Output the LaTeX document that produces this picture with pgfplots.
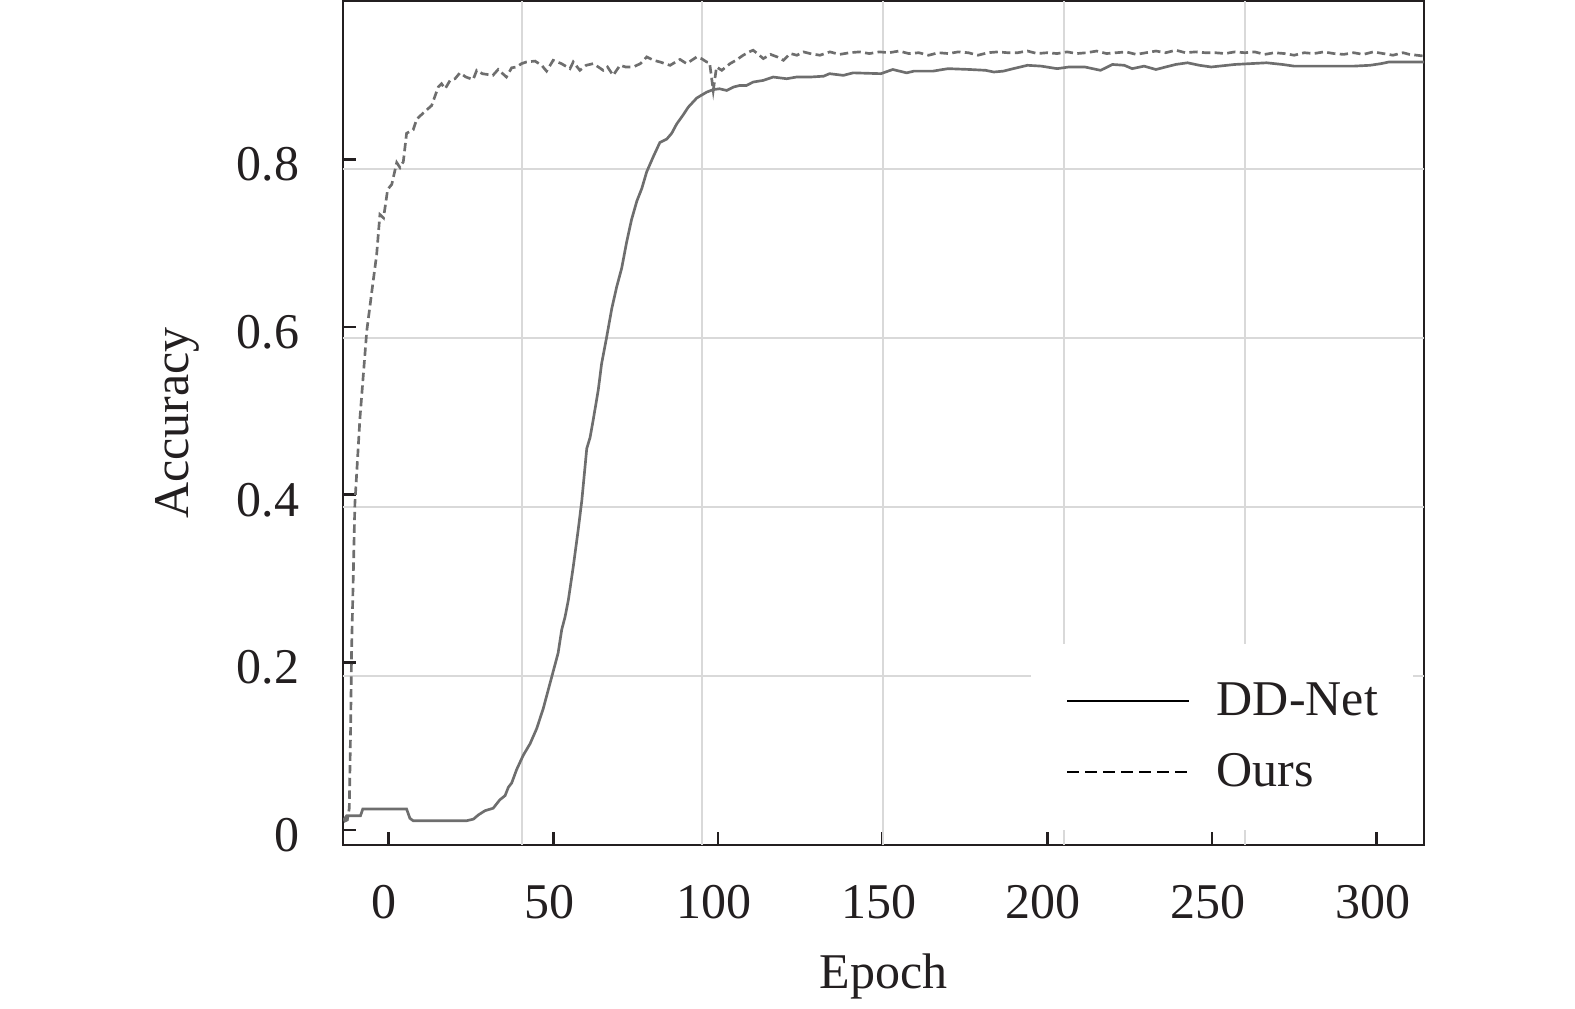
\documentclass[border=0pt]{standalone}
\usepackage{pgfplots}
\pgfplotsset{compat=1.18}
\usepackage{fontspec}
\setmainfont{Liberation Serif}
\definecolor{axisblack}{HTML}{231F20}
\definecolor{curvegray}{HTML}{6E6E6E}
\definecolor{gridgray}{HTML}{D9D9D9}
\newcommand{\lblfont}{\fontsize{15}{18}\selectfont}
\begin{document}
\begin{tikzpicture}
\begin{axis}[
  scale only axis,
  width=324.3pt, height=253.2pt,
  xmin=-13.81, xmax=314.4,
  ymin=-0.0179, ymax=0.9887,
  xtick={0,50,100,150,200,250,300},
  ytick={0,0.2,0.4,0.6,0.8},
  yticklabels={0,0.2,0.4,0.6,0.8},
  xticklabels={0,50,100,150,200,250,300},
  tick align=inside,
  xtick pos=bottom, ytick pos=left,
  major tick length=3.9pt,
  every tick/.style={axisblack, line width=0.8pt},
  axis line style={axisblack, line width=0.8pt},
  extra x ticks={40.4,95.3,150.2,205.1,260.0},
  extra x tick labels={},
  extra y ticks={0.1835,0.385,0.5865,0.788},
  extra y tick labels={},
  extra tick style={grid=major, major tick length=0pt, major grid style={gridgray, line width=0.6pt}},
  /pgf/number format/assume math mode=true,
  tick label style={font=\lblfont, text=axisblack},
  xticklabel style={inner sep=0pt, anchor=north, yshift=-12pt, xshift=-1.2pt},
  yticklabel style={inner sep=0pt, anchor=east, xshift=-12.9pt, yshift=-1.6pt},
  xlabel={Epoch}, ylabel={Accuracy},
  every axis x label/.style={at={(axis description cs:0.5,-0.128)}, anchor=north, inner sep=0pt, font=\lblfont, text=axisblack},
  every axis y label/.style={at={(axis description cs:-0.1739,0.5)}, rotate=90, anchor=north, inner sep=0pt, font=\lblfont, text=axisblack},
  legend cell align=left,
  legend image code/.code={\draw[#1] (0pt,0pt) -- (36.6pt,0pt);},
  legend style={at={(0.636,0.239)}, anchor=north west, draw=none, fill=white,
    font=\lblfont, inner xsep=10.5pt, inner ysep=11.5pt, row sep=10pt, column sep=8pt,
    nodes={inner sep=0pt, text=axisblack}},
]
\addplot[curvegray, line width=0.8pt, forget plot] coordinates {
(-13.6,0.012) (-12.7,0.017) (-8.5,0.017) (-7.8,0.025) (5.5,0.025) (6.5,0.014) (7.5,0.011)
(23.7,0.011) (25.8,0.013) (27.3,0.018) (29.3,0.023) (31.8,0.026) (33.8,0.036) (35.4,0.041)
(36.4,0.051) (37.4,0.056) (38.9,0.072) (40.9,0.089) (43.0,0.103) (45.0,0.121) (47.0,0.145)
(48.5,0.167) (50.0,0.189) (51.5,0.211) (52.6,0.239) (53.6,0.254) (54.6,0.274) (56.1,0.314)
(57.6,0.358) (58.7,0.393) (60.2,0.455) (61.2,0.468) (62.2,0.490) (63.7,0.525) (64.7,0.556)
(66.2,0.587) (67.8,0.622) (69.3,0.648) (70.8,0.670) (72.3,0.701) (73.8,0.728) (75.4,0.750)
(76.9,0.765) (78.4,0.785) (80.4,0.803) (82.4,0.820) (84.5,0.824) (86.0,0.831) (87.5,0.842)
(89.5,0.853) (91.0,0.862) (93.6,0.873) (96.6,0.880) (98.6,0.883) (100.5,0.884) (102.7,0.882)
(104.7,0.886) (106.7,0.888) (108.7,0.888) (110.7,0.892) (113.8,0.894) (116.8,0.898)
(120.9,0.896) (123.9,0.898) (128.0,0.898) (132.1,0.899) (133.9,0.902) (138.1,0.900)
(141.1,0.903) (149.5,0.902) (153.1,0.907) (157.3,0.903) (159.5,0.905) (165.2,0.905)
(169.9,0.908) (176.5,0.907) (181.3,0.906) (183.8,0.904) (186.6,0.905) (189.7,0.908)
(194.0,0.912) (198.2,0.911) (203.0,0.908) (206.6,0.910) (211.4,0.910) (216.2,0.906)
(219.8,0.913) (223.4,0.912) (225.8,0.908) (229.4,0.911) (233.0,0.907) (239.0,0.913)
(242.6,0.915) (246.2,0.912) (249.8,0.910) (252.2,0.911) (257.0,0.913) (266.6,0.915)
(271.4,0.913) (275.0,0.911) (293.0,0.911) (298.0,0.912) (301.4,0.914) (303.8,0.916) (314.4,0.916)
};
\addplot[curvegray, line width=0.8pt, dash pattern=on 2.5pt off 1.3pt, forget plot] coordinates {
(-13.6,0.010) (-12.5,0.012) (-11.9,0.026) (-11.5,0.12) (-11.2,0.214) (-10.2,0.389) (-8.65,0.492)
(-6.6,0.595) (-5.1,0.641) (-3.6,0.686) (-2.6,0.734) (-1.5,0.730) (-0.25,0.764) (1.0,0.770)
(2.5,0.796) (3.5,0.790) (4.5,0.797) (5.5,0.831) (7.5,0.835) (8.6,0.848) (11.1,0.857)
(13.1,0.864) (15.1,0.886) (16.1,0.890) (17.2,0.884) (18.7,0.894) (20.2,0.896) (21.7,0.903)
(23.5,0.898) (25.7,0.895) (26.8,0.906) (28.5,0.902) (31.7,0.900) (33.3,0.907) (35.8,0.898)
(37.4,0.909) (38.9,0.910) (40.4,0.914) (41.9,0.916) (44.5,0.917) (46.5,0.912) (48.0,0.905)
(50.0,0.918) (52.5,0.914) (55.1,0.908) (56.1,0.916) (58.1,0.906) (60.0,0.912) (62.2,0.914)
(65.2,0.906) (66.5,0.910) (68.2,0.900) (70.3,0.912) (72.0,0.910) (74.3,0.910) (76.5,0.914)
(78.4,0.922) (80.5,0.918) (82.4,0.916) (85.5,0.912) (88.5,0.919) (90.5,0.914) (93.6,0.922)
(95.0,0.920) (96.6,0.916) (97.5,0.915) (98.6,0.882) (99.6,0.910) (101.2,0.906) (103.7,0.914)
(105.5,0.918) (107.7,0.924) (109.5,0.928) (110.7,0.930) (112.0,0.926) (113.8,0.920)
(116.0,0.925) (118.0,0.922) (119.9,0.918) (122.0,0.926) (124.0,0.924) (126.0,0.928)
(128.0,0.926) (131.0,0.924) (134.0,0.928) (137.0,0.925) (140.0,0.927) (143.0,0.928)
(146.0,0.926) (149.0,0.928) (152.0,0.927) (155.0,0.929) (158.0,0.926) (161.0,0.927)
(164.0,0.924) (167.0,0.927) (170.0,0.926) (173.0,0.928) (176.0,0.927) (179.0,0.924)
(182.0,0.927) (185.0,0.928) (188.0,0.927) (191.0,0.927) (194.0,0.929) (197.0,0.926)
(200.0,0.927) (203.0,0.926) (206.0,0.928) (209.0,0.926) (212.0,0.927) (215.0,0.929)
(218.0,0.926) (221.0,0.927) (224.0,0.928) (227.0,0.925) (230.0,0.927) (233.0,0.929)
(236.0,0.927) (239.0,0.930) (242.0,0.927) (245.0,0.928) (248.0,0.927) (251.0,0.927)
(254.0,0.926) (257.0,0.928) (260.0,0.927) (263.0,0.928) (266.0,0.925) (269.0,0.927)
(272.0,0.926) (275.0,0.924) (278.0,0.927) (281.0,0.926) (284.0,0.928) (287.0,0.926)
(290.0,0.925) (293.0,0.927) (296.0,0.925) (299.0,0.928) (302.0,0.926) (305.0,0.924)
(308.0,0.927) (310.0,0.925) (314.4,0.923)
};
\addlegendimage{black, line width=0.6pt}
\addlegendentry{DD-Net}
\addlegendimage{black, line width=0.6pt, dash pattern=on 3.6pt off 1.8pt}
\addlegendentry{Ours}
\end{axis}
\pgfresetboundingbox
\path ([shift={(-102.9pt,-48.9pt)}]current axis.south west) rectangle ([shift={(45.3pt,0.3pt)}]current axis.north east);
\end{tikzpicture}
\end{document}
